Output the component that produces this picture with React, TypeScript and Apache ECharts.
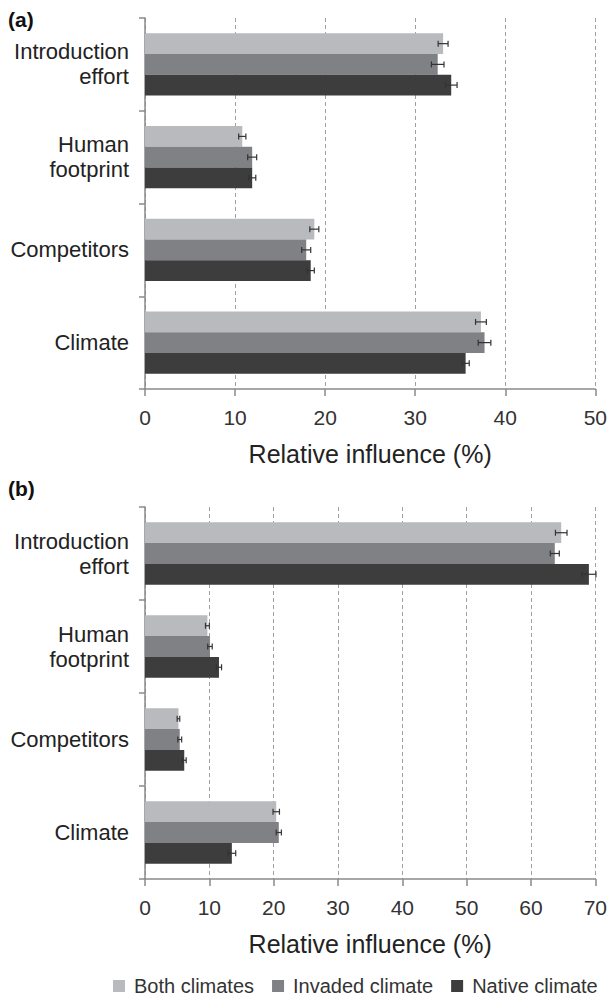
import React, { useEffect, useRef } from "react";
import * as echarts from "echarts";

const categories = ["Introduction\neffort", "Human\nfootprint", "Competitors", "Climate"];
const seriesNames = ["Both climates", "Invaded climate", "Native climate"];
const colors = ["#b9babd", "#808184", "#3d3d3d"];

const xMaxA = 50;
const xMaxB = 70;
const xInterval = 10;

// Panel (a)
const aBoth = [33.1, 10.8, 18.8, 37.3];
const aInvaded = [32.5, 11.9, 17.9, 37.7];
const aNative = [34.0, 11.9, 18.4, 35.6];
const aBothErr = [0.55, 0.4, 0.5, 0.6];
const aInvadedErr = [0.7, 0.5, 0.5, 0.7];
const aNativeErr = [0.65, 0.4, 0.4, 0.4];

// Panel (b)
const bBoth = [64.7, 9.7, 5.2, 20.4];
const bInvaded = [63.7, 10.1, 5.4, 20.8];
const bNative = [69.0, 11.5, 6.1, 13.5];
const bBothErr = [0.9, 0.3, 0.2, 0.5];
const bInvadedErr = [0.7, 0.35, 0.3, 0.4];
const bNativeErr = [1.1, 0.4, 0.3, 0.6];

const CAT_GAP = 0.33;
const FONT = '"Liberation Sans", Arial, Helvetica, sans-serif';

export default function App() {
  const ref = useRef<HTMLDivElement>(null);

  useEffect(() => {
    document.body.style.margin = "0";
    if (!ref.current) return;
    const chart = echarts.init(ref.current, undefined, { renderer: "svg" });

    const panels = [
      { vals: [aBoth, aInvaded, aNative], errs: [aBothErr, aInvadedErr, aNativeErr], max: xMaxA },
      { vals: [bBoth, bInvaded, bNative], errs: [bBothErr, bInvadedErr, bNativeErr], max: xMaxB },
    ];

    const axisColor = "#8a8a8a";

    const xAxis = panels.map((p, i) => ({
      type: "value",
      gridIndex: i,
      min: 0,
      max: p.max,
      interval: xInterval,
      name: "Relative influence (%)",
      nameLocation: "middle",
      nameGap: 52,
      nameTextStyle: { fontSize: 25, color: "#222", fontFamily: FONT },
      axisLine: { show: true, lineStyle: { color: axisColor, width: 1.5 } },
      axisTick: { show: true, length: 7, lineStyle: { color: axisColor, width: 1.5 } },
      axisLabel: { fontSize: 21, color: "#333", margin: 18, fontFamily: FONT },
      splitLine: { show: true, lineStyle: { color: "#a0a0a0", width: 1, type: [4, 3] } },
    }));

    const yAxis = panels.map((_, i) => ({
      type: "category",
      gridIndex: i,
      data: categories,
      inverse: true,
      axisLine: { show: true, lineStyle: { color: axisColor, width: 1.5 } },
      axisTick: { show: true, length: 6, alignWithLabel: false, lineStyle: { color: axisColor, width: 1.5 } },
      axisLabel: { fontSize: 22, lineHeight: 25, color: "#222", margin: 16, fontFamily: FONT },
      splitLine: { show: false },
    }));

    const series: any[] = [];
    panels.forEach((p, gi) => {
      seriesNames.forEach((name, si) => {
        series.push({
          type: "bar",
          name,
          xAxisIndex: gi,
          yAxisIndex: gi,
          data: p.vals[si],
          itemStyle: { color: colors[si] },
          barGap: "0%",
          barCategoryGap: CAT_GAP * 100 + "%",
          z: 2,
        });
      });
      const errData: number[][] = [];
      seriesNames.forEach((_, si) => {
        p.vals[si].forEach((v, ci) => {
          errData.push([v, ci, p.errs[si][ci], si]);
        });
      });
      series.push({
        type: "custom",
        xAxisIndex: gi,
        yAxisIndex: gi,
        z: 5,
        silent: true,
        encode: { x: 0, y: 1 },
        data: errData,
        renderItem: (params: any, api: any) => {
          const v = api.value(0);
          const c = api.value(1);
          const e = api.value(2);
          const s = api.value(3);
          const band = api.size([0, 1])[1];
          const bw = (band * (1 - CAT_GAP)) / 3;
          const center = api.coord([v, c]);
          const y = center[1] + (s - 1) * bw;
          const x1 = api.coord([v - e, c])[0];
          const x2 = api.coord([v + e, c])[0];
          const h = 3;
          const st = { stroke: "#333", lineWidth: 1.2 };
          return {
            type: "group",
            children: [
              { type: "line", shape: { x1, y1: y, x2, y2: y }, style: st },
              { type: "line", shape: { x1, y1: y - h, x2: x1, y2: y + h }, style: st },
              { type: "line", shape: { x1: x2, y1: y - h, x2, y2: y + h }, style: st },
            ],
          };
        },
      });
    });

    chart.setOption({
      animation: false,
      backgroundColor: "#fff",
      textStyle: { fontFamily: FONT },
      grid: [
        { left: 145, right: 12, top: 18, height: 371, containLabel: false },
        { left: 145, right: 12, top: 507, height: 372, containLabel: false },
      ],
      xAxis,
      yAxis,
      legend: {
        data: seriesNames,
        left: 113,
        top: 976,
        padding: 0,
        icon: "rect",
        itemWidth: 12,
        itemHeight: 12,
        itemGap: 18,
        textStyle: { fontSize: 20, color: "#333", fontFamily: FONT, padding: [0, 0, 0, 4] },
      },
      graphic: [
        { type: "text", left: 8, top: 9, style: { text: "(a)", font: `bold 21px ${FONT}`, fill: "#111" } },
        { type: "text", left: 8, top: 478, style: { text: "(b)", font: `bold 21px ${FONT}`, fill: "#111" } },
      ],
      series,
    });

    return () => chart.dispose();
  }, []);

  return <div ref={ref} style={{ width: 610, height: 998 }} />;
}
